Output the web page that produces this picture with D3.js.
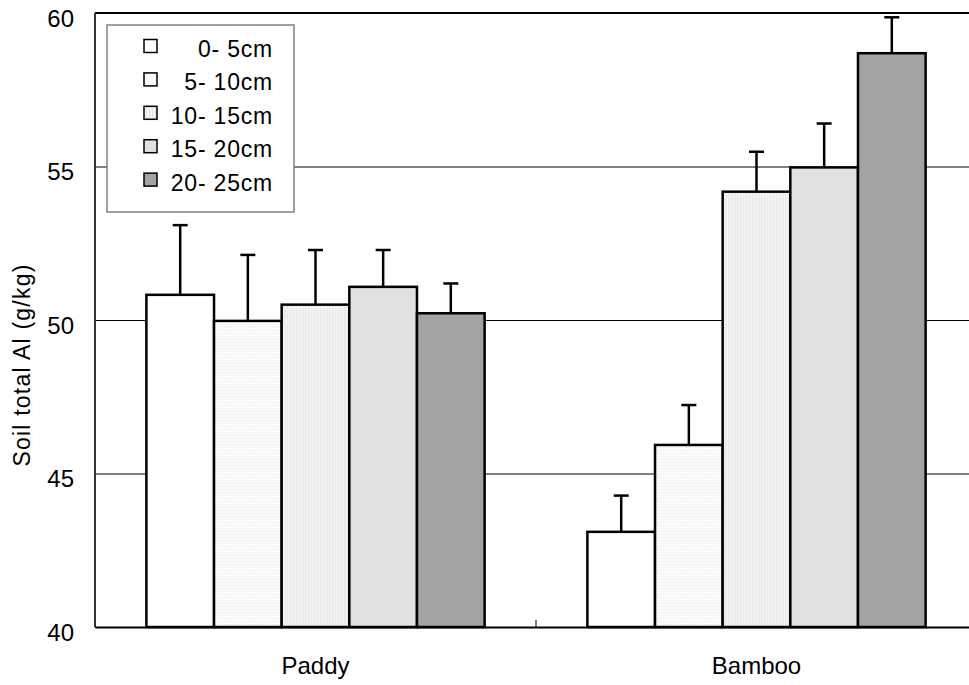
<!DOCTYPE html>
<html lang="en">
<head>
  <meta charset="UTF-8">
  <script src="https://cdn.jsdelivr.net/npm/d3@7"></script>
  <title>Soil total Al</title>
  <style>
    body { margin: 0; background: #fff; }
    text { font-family: "Liberation Sans", Arial, sans-serif; fill: #000; }
  </style>
</head>
<body>
  <svg width="969" height="685"></svg>
  <script>
    // data
    var categories = ["Paddy", "Bamboo"];
    var depths = ["0- 5cm", "5- 10cm", "10- 15cm", "15- 20cm", "20- 25cm"];
    var paddyMeans = [50.82, 49.97, 50.50, 51.08, 50.22];
    var paddyErrors = [2.27, 2.15, 1.78, 1.20, 0.97];
    var bambooMeans = [43.10, 45.93, 54.18, 54.97, 58.69];
    var bambooErrors = [1.18, 1.30, 1.30, 1.43, 1.17];
    var yTicks = [40, 45, 50, 55, 60];

    var means = [paddyMeans, bambooMeans];
    var errors = [paddyErrors, bambooErrors];

    var svg = d3.select("svg");
    var plot = { left: 95, right: 977, top: 13, bottom: 627 };

    // fills: plain, two fine hatches, light grey, mid grey
    var defs = svg.append("defs");
    var p2 = defs.append("pattern").attr("id", "fill2")
      .attr("patternUnits", "userSpaceOnUse").attr("width", 3).attr("height", 3);
    p2.append("rect").attr("width", 3).attr("height", 3).attr("fill", "#fbfbfb");
    p2.append("rect").attr("width", 1).attr("height", 1).attr("fill", "#e8e8e8");
    var p3 = defs.append("pattern").attr("id", "fill3")
      .attr("patternUnits", "userSpaceOnUse").attr("width", 3).attr("height", 3);
    p3.append("rect").attr("width", 3).attr("height", 3).attr("fill", "#f4f4f4");
    p3.append("rect").attr("width", 1).attr("height", 3).attr("fill", "#e4e4e4");
    var fills = ["#ffffff", "url(#fill2)", "url(#fill3)", "#e1e1e1", "#a3a3a3"];

    var x0 = d3.scaleBand()
      .domain(categories)
      .range([plot.left, plot.right])
      .paddingInner(0.233)
      .paddingOuter(0.1165);
    var x1 = d3.scaleBand()
      .domain(d3.range(depths.length))
      .range([0, x0.bandwidth()]);
    var y = d3.scaleLinear()
      .domain([40, 60])
      .range([plot.bottom, plot.top]);

    // grid + y axis
    var yAxis = svg.append("g")
      .attr("transform", `translate(${plot.left},0)`)
      .call(d3.axisLeft(y).tickValues(yTicks)
        .tickSizeInner(-(plot.right - plot.left)).tickSizeOuter(0).tickPadding(21));
    yAxis.select(".domain").remove();
    yAxis.selectAll(".tick line").attr("stroke", "#000").attr("stroke-width", 1);
    yAxis.selectAll(".tick text")
      .attr("font-size", 24).attr("dy", "0.55em")
      .style("font-family", "'Liberation Sans', Arial, sans-serif");

    // plot frame lines
    svg.append("line").attr("x1", plot.left).attr("x2", plot.right)
      .attr("y1", plot.top).attr("y2", plot.top)
      .attr("stroke", "#000").attr("stroke-width", 2);
    svg.append("line").attr("x1", plot.left).attr("x2", plot.left)
      .attr("y1", plot.top).attr("y2", plot.bottom)
      .attr("stroke", "#333").attr("stroke-width", 2);

    // bars
    var groups = svg.selectAll(".grp")
      .data(categories)
      .enter().append("g")
      .attr("class", "grp")
      .attr("transform", d => `translate(${x0(d)},0)`);

    var bars = groups.selectAll(".bar")
      .data((d, i) => means[i].map((v, j) => ({ v: v, e: errors[i][j], j: j })))
      .enter().append("g");

    bars.append("line")
      .attr("x1", d => x1(d.j) + x1.bandwidth() / 2)
      .attr("x2", d => x1(d.j) + x1.bandwidth() / 2)
      .attr("y1", d => y(d.v))
      .attr("y2", d => y(d.v + d.e))
      .attr("stroke", "#000").attr("stroke-width", 2.5);
    bars.append("line")
      .attr("x1", d => x1(d.j) + x1.bandwidth() / 2 - 7.5)
      .attr("x2", d => x1(d.j) + x1.bandwidth() / 2 + 7.5)
      .attr("y1", d => y(d.v + d.e))
      .attr("y2", d => y(d.v + d.e))
      .attr("stroke", "#000").attr("stroke-width", 2.5);
    bars.append("rect")
      .attr("x", d => x1(d.j))
      .attr("y", d => y(d.v))
      .attr("width", x1.bandwidth())
      .attr("height", d => plot.bottom - y(d.v))
      .attr("fill", d => fills[d.j])
      .attr("stroke", "#000").attr("stroke-width", 2.5);

    // x axis
    var xAxis = svg.append("g")
      .attr("transform", `translate(0,${plot.bottom})`)
      .call(d3.axisBottom(x0).tickSize(0).tickPadding(30));
    xAxis.select(".domain").attr("stroke", "#000").attr("stroke-width", 2);
    xAxis.selectAll(".tick text").attr("font-size", 24)
      .style("font-family", "'Liberation Sans', Arial, sans-serif");
    xAxis.append("line")
      .attr("x1", x0.step() + plot.left).attr("x2", x0.step() + plot.left)
      .attr("y1", 0).attr("y2", -7)
      .attr("stroke", "#000").attr("stroke-width", 1);

    // y title
    svg.append("text")
      .attr("transform", "translate(30,365) rotate(-90)")
      .attr("text-anchor", "middle")
      .attr("font-size", 23)
      .attr("letter-spacing", 1.2)
      .text("Soil total Al (g/kg)");

    // legend
    var legend = svg.append("g").attr("transform", "translate(107,25)");
    legend.append("rect")
      .attr("width", 187).attr("height", 187)
      .attr("fill", "#fff").attr("stroke", "#808080").attr("stroke-width", 1.5);
    var items = legend.selectAll(".item")
      .data(depths)
      .enter().append("g")
      .attr("transform", (d, i) => `translate(0,${21 + i * 33.4})`);
    items.append("rect")
      .attr("x", 37).attr("y", -6.5)
      .attr("width", 13).attr("height", 13)
      .attr("fill", (d, i) => fills[i])
      .attr("stroke", "#000").attr("stroke-width", 1.5);
    items.append("text")
      .attr("x", 166).attr("y", 11)
      .attr("text-anchor", "end")
      .attr("font-size", 23)
      .attr("letter-spacing", 0.8)
      .text(d => d);
  </script>
</body>
</html>
